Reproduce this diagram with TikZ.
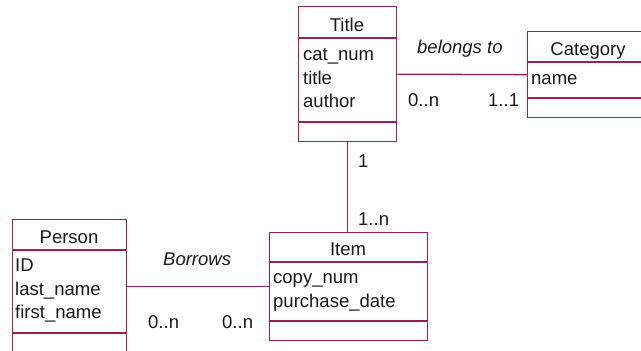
\documentclass[tikz,border=0pt]{standalone}
\usepackage{fontspec}
\setmainfont{Liberation Sans}
\definecolor{umlline}{RGB}{160,30,75}
\definecolor{umltext}{RGB}{25,25,25}
\begin{document}
\begin{tikzpicture}[x=1pt,y=-1pt,
  classbox/.style={draw=umlline,line width=1.3pt,rectangle,inner sep=0pt,anchor=north west},
  sep/.style={draw=umlline,line width=1.3pt},
  conn/.style={draw=umlline,line width=1.3pt},
  txt/.style={inner sep=0pt,anchor=base west,text=umltext,font=\fontsize{18.5}{22}\selectfont},
  head/.style={inner sep=0pt,anchor=base,text=umltext,font=\fontsize{18.5}{22}\selectfont},
  lbl/.style={inner sep=0pt,anchor=base west,text=umltext,font=\fontsize{18.5}{22}\selectfont},
  ilbl/.style={inner sep=0pt,anchor=base west,text=umltext,font=\fontsize{18.5}{22}\selectfont\itshape}]
\useasboundingbox (0,0) rectangle (641,351);
\fill[white] (0,0) rectangle (641,351);
% Title
\node[classbox,minimum width=98pt,minimum height=135pt] (title) at (298,6) {};
\draw[sep] (298,38) -- (396,38);
\draw[sep] (298,122) -- (396,122);
\node[head] (tT) at (347,31) {Title};
\node[txt] (t1) at (303,60.5) {cat\_num};
\node[txt] (t2) at (303,84.5) {title};
\node[txt] (t3) at (303,107.5) {author};
% Category
\node[classbox,minimum width=118pt,minimum height=86pt] (cat) at (527,31) {};
\draw[sep] (527,62) -- (645,62);
\draw[sep] (527,98) -- (645,98);
\node[head] (cT) at (588,55) {Category};
\node[txt] (c1) at (531,84) {name};
% Person
\node[classbox,minimum width=114pt,minimum height=134pt] (person) at (12,219) {};
\draw[sep] (12,250) -- (126,250);
\draw[sep] (12,333) -- (126,333);
\node[head] (pT) at (69,243) {Person};
\node[txt] (p1) at (15,271) {ID};
\node[txt] (p2) at (15,295) {last\_name};
\node[txt] (p3) at (15,318) {first\_name};
% Item
\node[classbox,minimum width=158pt,minimum height=108pt] (item) at (269,232) {};
\draw[sep] (269,262) -- (427,262);
\draw[sep] (269,321) -- (427,321);
\node[head] (iT) at (348,255) {Item};
\node[txt] (i1) at (273,283) {copy\_num};
\node[txt] (i2) at (273,307) {purchase\_date};
% connectors
\draw[conn] (title.east) -- (cat.west);
\draw[conn] (title.south) -- (title.south |- item.north);
\draw[conn] (person.east) -- (item.west);
% labels
\node[ilbl] (l1) at (417,53) {belongs to};
\node[lbl] (l2) at (408,106) {0..n};
\node[lbl] (l3) at (488,106) {1..1};
\node[lbl] (l4) at (358,167) {1};
\node[lbl] (l5) at (358,225) {1..n};
\node[ilbl] (l6) at (163,265) {Borrows};
\node[lbl] (l7) at (148,328) {0..n};
\node[lbl] (l8) at (222,328) {0..n};
\end{tikzpicture}
\end{document}
